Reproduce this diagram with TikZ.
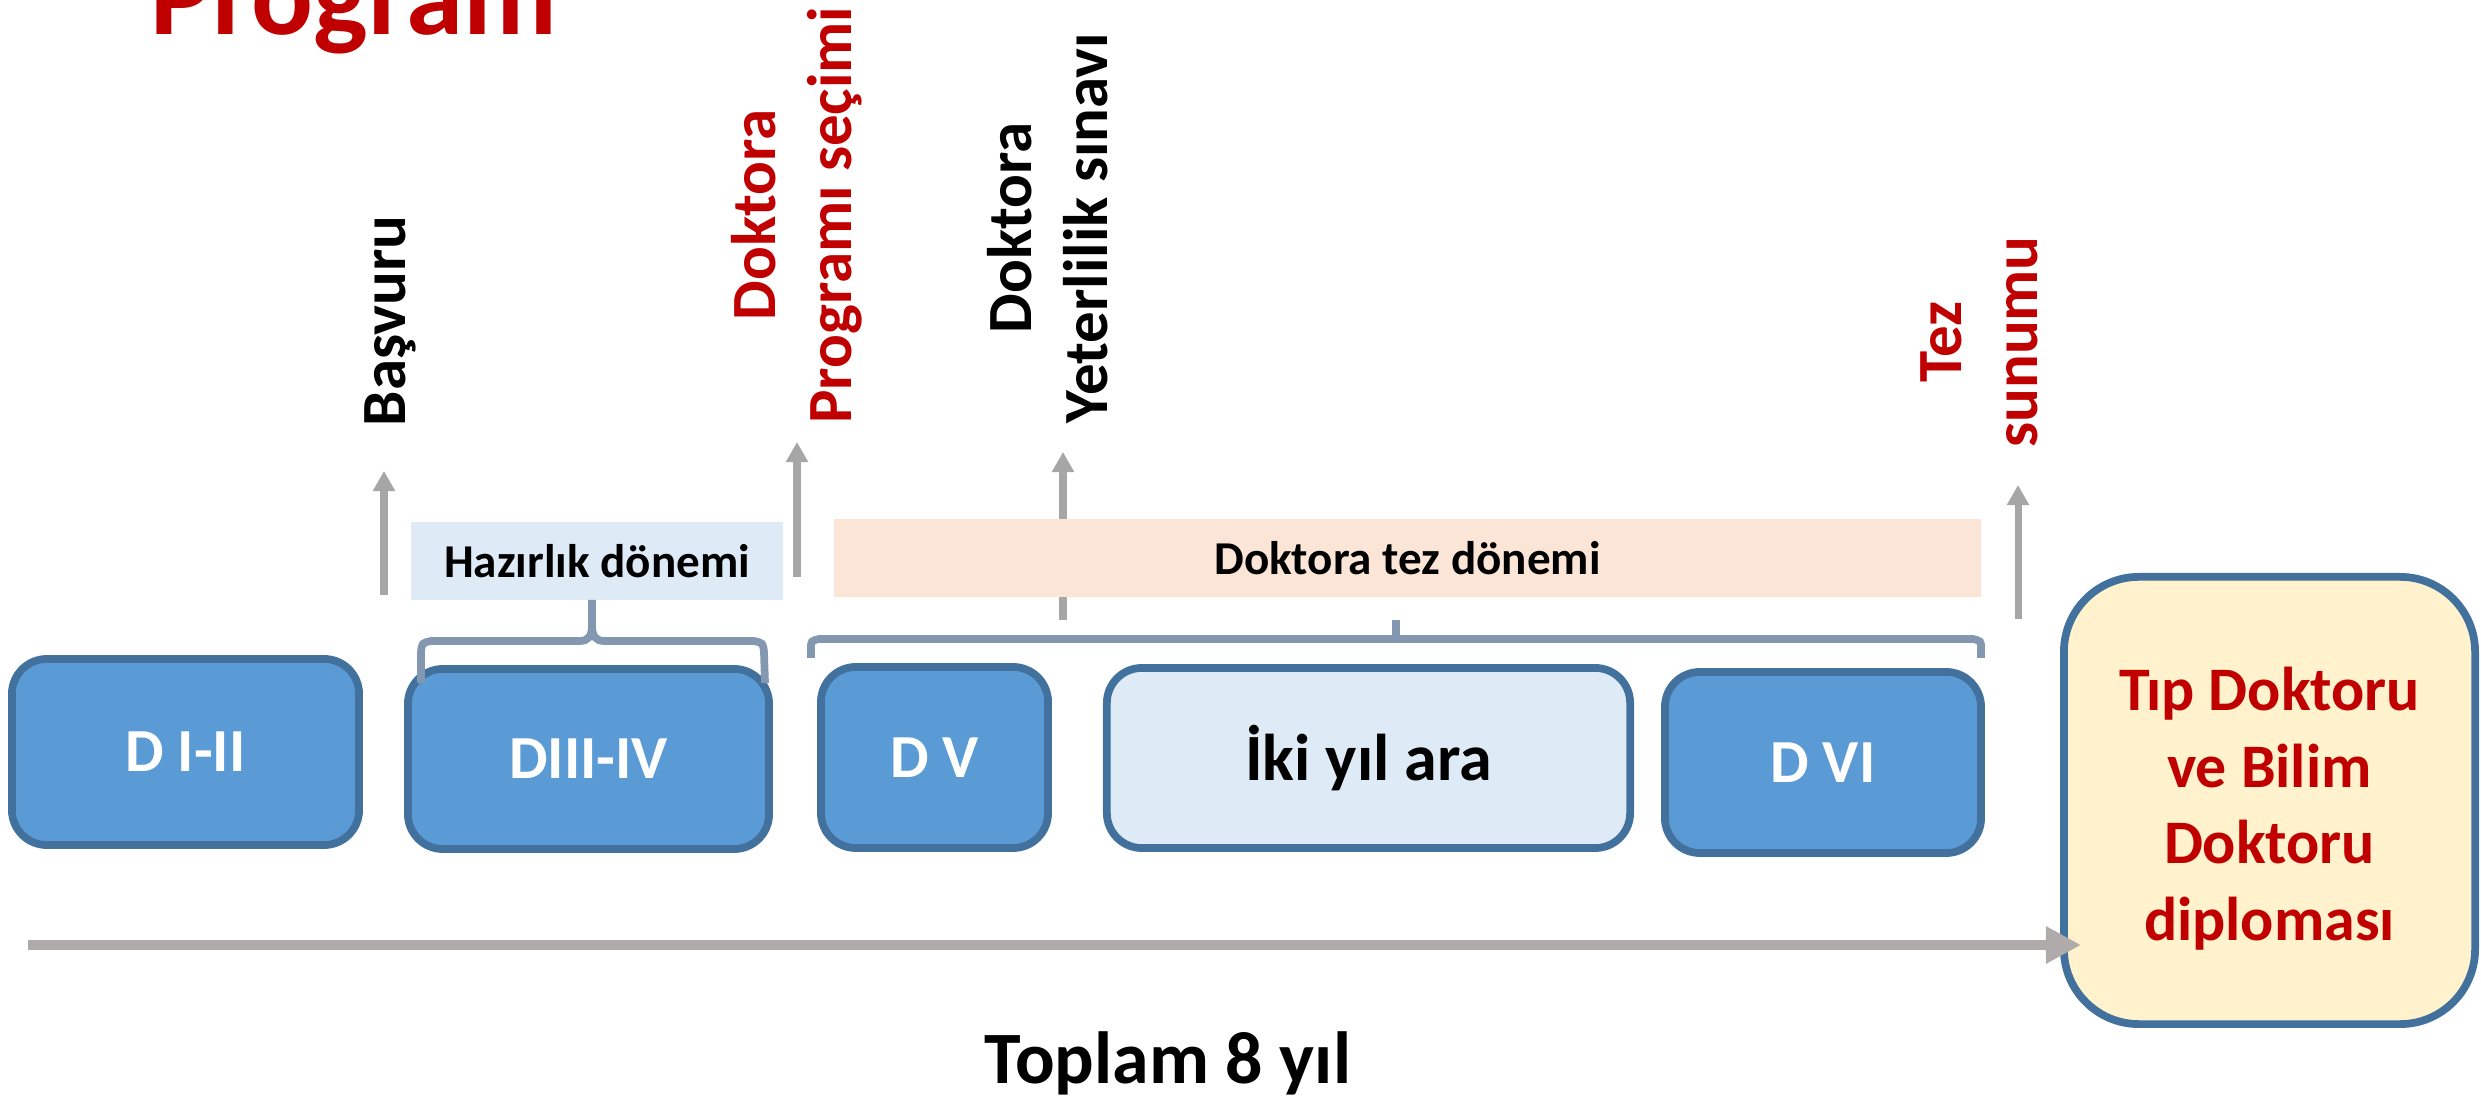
\documentclass[tikz,border=0pt]{standalone}
\usepackage{fontspec}
\setmainfont{Carlito}
\usetikzlibrary{arrows.meta}
\definecolor{tred}{HTML}{C00000}
\definecolor{dblue}{HTML}{5B9BD5}
\definecolor{bord}{HTML}{41719C}
\definecolor{lblue}{HTML}{DEEBF7}
\definecolor{peach}{HTML}{FBE5D6}
\definecolor{cream}{HTML}{FFF2CC}
\definecolor{bracec}{HTML}{8497B0}
\definecolor{arrg}{HTML}{A6A6A6}
\definecolor{maing}{HTML}{AFABAB}
\begin{document}
\begin{tikzpicture}[x=0.01cm,y=-0.01cm,
  dbox/.style={draw=bord, line width=2.2pt, rounded corners=0.35cm, fill=dblue, text=white, inner sep=0pt,
    font=\fontsize{17.4}{21}\selectfont\bfseries},
  lbox/.style={dbox, fill=lblue, text=black, font=\fontsize{18.8}{22}\selectfont\bfseries},
  ybox/.style={draw=bord, line width=2.2pt, rounded corners=0.75cm, fill=cream, text=tred, inner sep=0pt, align=center,
    font=\fontsize{17.6}{21.8}\selectfont\bfseries},
  pbox/.style={inner sep=0pt, font=\fontsize{13.4}{16}\selectfont\bfseries},
  lbl/.style={rotate=90, inner sep=0pt, font=\fontsize{17.9}{21.6}\selectfont\bfseries},
  smallarrow/.style={draw=arrg, line width=2pt, -{Triangle[length=5.7pt,width=6pt]}},
  mainarrow/.style={draw=maing, line width=3.1pt, -{Triangle[length=10pt,width=10pt]}},
  bracel/.style={draw=bracec, line width=2.2pt}
]
\useasboundingbox (0,0) rectangle (2481,1101);

% title (cut off at top)
\node[anchor=base west, text=tred, inner sep=0pt, font=\fontsize{32.8}{38}\selectfont\bfseries] (title) at (150,35) {Program};

% rotated labels
\node[lbl, anchor=base] (basv) at (405,321) {Başvuru};
\node[lbl, text=tred, align=center] (prog) at (797,215) {Doktora\\Programı seçimi};
\node[lbl, align=center] (yet) at (1048,228) {Doktora\\Yeterlilik sınavı};
\node[lbl, text=tred, align=center] (tez) at (1979,342) {Tez\\sunumu};

% small arrows
\coordinate (a1s) at (384,595); \coordinate (a1e) at (384,471);
\coordinate (a2s) at (797,577); \coordinate (a2e) at (797,442);
\coordinate (a3s) at (1063,620); \coordinate (a3e) at (1063,452);
\coordinate (a4s) at (2018,619); \coordinate (a4e) at (2018,485);
\draw[smallarrow] (a1s) -- (a1e);
\draw[smallarrow] (a2s) -- (a2e);
\draw[smallarrow] (a3s) -- (a3e);
\draw[smallarrow] (a4s) -- (a4e);

% period boxes
\node[pbox, fill=lblue, minimum width=3.72cm, minimum height=0.78cm] (haz) at (597,561) {Hazırlık dönemi};
\node[pbox, fill=peach, minimum width=11.47cm, minimum height=0.78cm] (tezd) at (1407.5,558) {Doktora tez dönemi};

% phase boxes
\node[dbox, minimum width=3.47cm, minimum height=1.86cm] (d12) at (185.5,752) {D I-II};
\node[dbox, minimum width=3.61cm, minimum height=1.80cm] (d34) at (588.5,759) {DIII-IV};
\node[dbox, minimum width=2.27cm, minimum height=1.81cm] (d5) at (934.5,757.5) {D V};
\node[lbox, minimum width=5.23cm, minimum height=1.80cm] (iki) at (1368.5,758) {İki yıl ara};
\node[dbox, minimum width=3.16cm, minimum height=1.81cm] (d6) at (1823,762.5) {D VI};
\node[ybox, minimum width=4.11cm, minimum height=4.47cm] (tip) at (2269.5,800.5) {\rule{0pt}{0.6cm}Tıp Doktoru\\ve Bilim\\Doktoru\\diploması};

% braces (drawn over the boxes)
\draw[bracel] (421,683) -- (421,652) .. controls (422,643) .. (431,641) -- (580,641)
  .. controls (588,641) and (592,636) .. (592,626) -- (592,600);
\draw[bracel] (592,626) .. controls (592,636) and (596,641) .. (604,641) -- (754,641)
  .. controls (763,643) .. (764,652) -- (765,683);
\draw[bracel] (811,658) -- (811,648) .. controls (811,641) .. (819,639) -- (1973,639)
  .. controls (1981,641) .. (1981,648) -- (1981,658);
\draw[bracel] (1396,639) -- (1396,620);

% main timeline arrow
\coordinate (ms) at (28,945);
\draw[mainarrow] (ms) -- ([xshift=0.21cm]ms -| tip.west);

% total
\node[anchor=base, inner sep=0pt, font=\fontsize{21}{25}\selectfont\bfseries] (total) at (1168,1084) {Toplam 8 yıl};
\end{tikzpicture}
\end{document}
